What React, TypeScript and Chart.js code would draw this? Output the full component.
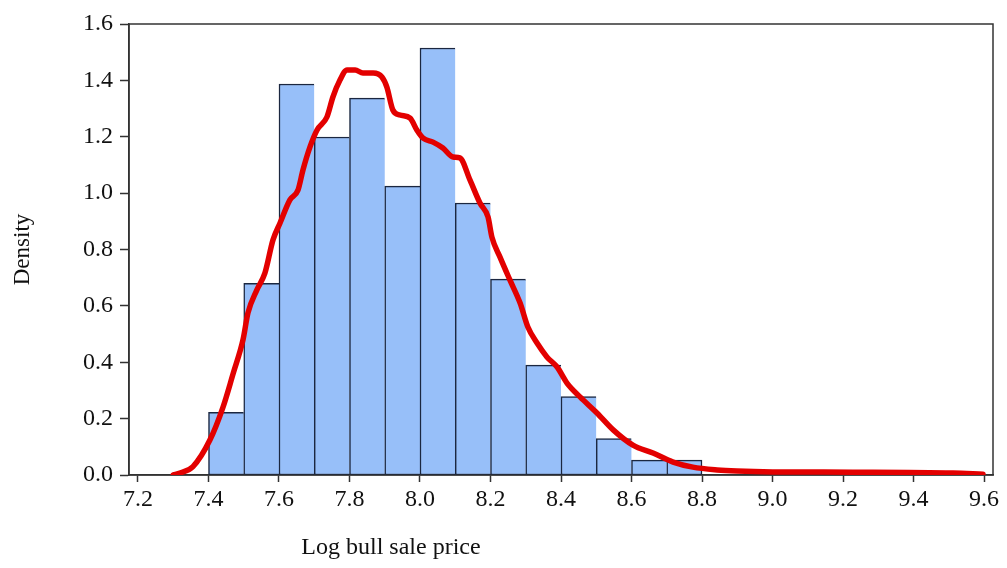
import { useEffect, useRef } from "react";
import { Chart, registerables } from "chart.js";

Chart.register(...registerables);

// Histogram bins (left edges) and densities
const binStarts = [7.4, 7.5, 7.6, 7.7, 7.8, 7.9, 8.0, 8.1, 8.2, 8.3, 8.4, 8.5, 8.6, 8.7];
const binWidth = 0.1;
const densities = [0.222, 0.68, 1.387, 1.199, 1.337, 1.025, 1.515, 0.965, 0.695, 0.39, 0.278, 0.129, 0.053, 0.053];

// Kernel density curve
const kdeX = [
  7.3, 7.319, 7.356, 7.404, 7.441, 7.47, 7.498, 7.512, 7.537, 7.56, 7.583, 7.603, 7.631, 7.654, 7.668,
  7.688, 7.708, 7.736, 7.753, 7.773, 7.793, 7.816, 7.838, 7.867, 7.892, 7.906, 7.923, 7.943, 7.972,
  7.991, 8.009, 8.037, 8.065, 8.094, 8.113, 8.142, 8.17, 8.193, 8.204, 8.227, 8.255, 8.284, 8.306,
  8.332, 8.36, 8.389, 8.417, 8.454, 8.502, 8.548, 8.604, 8.661, 8.718, 8.774, 8.843, 8.899, 9.0,
  9.228, 9.512, 9.597,
];
const kdeY = [
  0.0, 0.007, 0.03, 0.124, 0.24, 0.36, 0.48, 0.575, 0.656, 0.716, 0.834, 0.894, 0.976, 1.011, 1.082,
  1.164, 1.224, 1.27, 1.341, 1.401, 1.437, 1.437, 1.426, 1.426, 1.412, 1.376, 1.295, 1.277, 1.266,
  1.224, 1.195, 1.181, 1.16, 1.128, 1.125, 1.046, 0.965, 0.915, 0.844, 0.773, 0.692, 0.61, 0.525,
  0.468, 0.419, 0.383, 0.326, 0.277, 0.22, 0.16, 0.106, 0.078, 0.046, 0.028, 0.018, 0.014, 0.011,
  0.01, 0.007, 0.003,
];

const xTickValues = [7.2, 7.4, 7.6, 7.8, 8.0, 8.2, 8.4, 8.6, 8.8, 9.0, 9.2, 9.4, 9.6];
const yTickValues = [0, 0.2, 0.4, 0.6, 0.8, 1.0, 1.2, 1.4, 1.6];
const xTitle = "Log bull sale price";
const yTitle = "Density";

const SERIF = "'Liberation Serif', 'Times New Roman', serif";

export default function App() {
  const ref = useRef<HTMLCanvasElement>(null);

  useEffect(() => {
    const canvas = ref.current;
    if (!canvas) return;

    const framePlugin = {
      id: "frame",
      beforeDatasetsDraw(chart: any) {
        const { left, top, right, bottom } = chart.chartArea;
        const c = chart.ctx;
        c.save();
        c.strokeStyle = "#333";
        c.lineWidth = 1.5;
        c.strokeRect(left, top, right - left, bottom - top);
        c.restore();
      },
    };

    const xTitlePlugin = {
      id: "xTitle",
      afterDraw(chart: any) {
        const c = chart.ctx;
        c.save();
        c.font = `24px ${SERIF}`;
        c.fillStyle = "#111";
        c.textAlign = "center";
        c.textBaseline = "middle";
        c.fillText(xTitle, 391, 548);
        c.restore();
      },
    };

    const last = binStarts.length - 1;

    const chart = new Chart(canvas, {
      type: "bar",
      data: {
        datasets: [
          {
            type: "line",
            data: kdeX.map((x, i) => ({ x, y: kdeY[i] })),
            borderColor: "#E30000",
            borderWidth: 5.5,
            pointRadius: 0,
            cubicInterpolationMode: "monotone",
            borderJoinStyle: "round",
            borderCapStyle: "round",
            order: 0,
          } as any,
          {
            type: "bar",
            data: binStarts.map((s, i) => ({ x: s + binWidth / 2, y: densities[i] })),
            backgroundColor: "#97BFF9",
            borderColor: "#1B2740",
            borderSkipped: false,
            borderWidth: (ctx: any) => ({
              top: 1.5,
              left: 1.5,
              bottom: 1,
              right: ctx.dataIndex === last ? 1.5 : 0,
            }),
            barPercentage: 1,
            categoryPercentage: 1,
            order: 1,
          } as any,
        ],
      },
      options: {
        responsive: false,
        animation: false,
        layout: { padding: { left: 0, top: 24, right: 14, bottom: 0 } },
        plugins: {
          legend: { display: false },
          tooltip: { enabled: false },
        },
        scales: {
          x: {
            type: "linear",
            min: 7.1745,
            max: 9.6255,
            offset: false,
            afterBuildTicks: (scale: any) => {
              scale.ticks = xTickValues.map((v) => ({ value: v }));
            },
            afterFit: (scale: any) => {
              scale.height = 93;
            },
            ticks: {
              autoSkip: false,
              maxRotation: 0,
              padding: 3,
              color: "#111",
              font: { family: SERIF, size: 24 },
              callback: (v: any) => Number(v).toFixed(1),
            },
            grid: {
              offset: false,
              drawOnChartArea: false,
              drawTicks: true,
              tickLength: 7,
              tickColor: "#333",
              tickWidth: 1.5,
            },
            border: { display: true, color: "#333", width: 1.5 },
          } as any,
          y: {
            type: "linear",
            min: 0,
            max: 1.6,
            afterBuildTicks: (scale: any) => {
              scale.ticks = yTickValues.map((v) => ({ value: v }));
            },
            afterFit: (scale: any) => {
              scale.width = 129;
            },
            ticks: {
              padding: 7,
              color: "#111",
              font: { family: SERIF, size: 24 },
              callback: (v: any) => Number(v).toFixed(1),
            },
            grid: {
              drawOnChartArea: false,
              drawTicks: true,
              tickLength: 9,
              tickColor: "#333",
              tickWidth: 1.5,
            },
            border: { display: true, color: "#333", width: 1.5 },
            title: {
              display: true,
              text: yTitle,
              color: "#111",
              font: { family: SERIF, size: 23 },
              padding: { top: 9, bottom: 0 },
            },
          } as any,
        },
      },
      plugins: [framePlugin, xTitlePlugin],
    });

    return () => chart.destroy();
  }, []);

  return (
    <div
      style={{
        position: "absolute",
        left: 0,
        top: 0,
        width: 1007,
        height: 568,
        background: "#fff",
      }}
    >
      <canvas ref={ref} width={1007} height={568} />
    </div>
  );
}
